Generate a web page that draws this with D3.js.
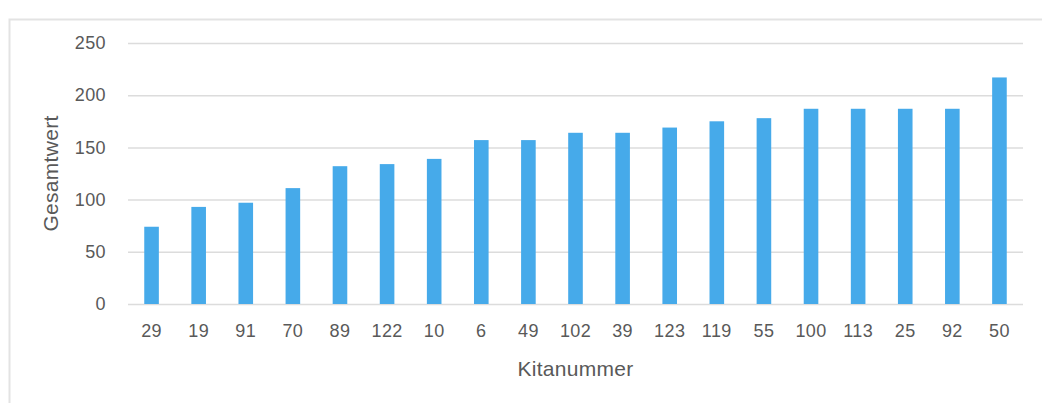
<!DOCTYPE html>
<html>
<head>
<meta charset="utf-8">
<script src="https://cdn.jsdelivr.net/npm/d3@7"></script>
<style>
  html, body { margin: 0; padding: 0; background: #ffffff; }
  svg { display: block; }
  text { font-family: "Liberation Sans", Arial, sans-serif; fill: #595959; }
</style>
</head>
<body>
<svg id="chart" width="1042" height="403"></svg>
<script>
// Kitas sorted by total score
const categories = ["29", "19", "91", "70", "89", "122", "10", "6", "49", "102", "39", "123", "119", "55", "100", "113", "25", "92", "50"];
const values = [74, 93, 97, 111, 132, 134, 139, 157, 157, 164, 164, 169, 175, 178, 187, 187, 187, 187, 217];
const yTicks = [0, 50, 100, 150, 200, 250];
const xTitle = "Kitanummer";
const yTitle = "Gesamtwert";

const svg = d3.select("#chart");
const W = 1042, H = 403;
const plot = { left: 128, right: 1023, top: 43, bottom: 304 };

// Outer chart frame
svg.append("rect")
  .attr("x", 9.5).attr("y", 19.5)
  .attr("width", W + 20).attr("height", H + 20)
  .attr("fill", "none")
  .attr("stroke", "#e3e3e3")
  .attr("stroke-width", 2);

const x = d3.scaleBand()
  .domain(categories)
  .range([plot.left, plot.right])
  .paddingInner(0.69)
  .paddingOuter(0.345);

const y = d3.scaleLinear()
  .domain([0, 250])
  .range([plot.bottom, plot.top]);

// Horizontal gridlines and y tick labels
const yAxis = d3.axisLeft(y)
  .tickValues(yTicks)
  .tickSize(-(plot.right - plot.left))
  .tickPadding(22);

const gy = svg.append("g")
  .attr("transform", `translate(${plot.left},0)`)
  .call(yAxis);
gy.select(".domain").remove();
gy.selectAll(".tick line")
  .attr("stroke", "#dcdcdc")
  .attr("stroke-width", 1.5);
gy.selectAll(".tick text")
  .attr("font-size", 18)
  .attr("letter-spacing", 0.4)
  .style("fill", "#595959");

// Bars
svg.append("g")
  .selectAll("rect")
  .data(values)
  .join("rect")
  .attr("x", (d, i) => x(categories[i]))
  .attr("y", d => y(d))
  .attr("width", x.bandwidth())
  .attr("height", d => y(0) - y(d))
  .attr("fill", "#46aaea");

// Category labels
const xAxis = d3.axisBottom(x).tickSize(0).tickPadding(20);
const gx = svg.append("g")
  .attr("transform", `translate(0,${plot.bottom})`)
  .call(xAxis);
gx.select(".domain").remove();
gx.selectAll(".tick text")
  .attr("font-size", 18)
  .attr("letter-spacing", 0.4)
  .style("fill", "#595959");

// Axis titles
svg.append("text")
  .attr("x", (plot.left + plot.right) / 2)
  .attr("y", 376)
  .attr("text-anchor", "middle")
  .attr("font-size", 21)
  .attr("letter-spacing", 0.3)
  .text(xTitle);

svg.append("text")
  .attr("transform", `translate(58,${(plot.top + plot.bottom) / 2}) rotate(-90)`)
  .attr("text-anchor", "middle")
  .attr("font-size", 21)
  .attr("letter-spacing", 0.3)
  .text(yTitle);
</script>
</body>
</html>
